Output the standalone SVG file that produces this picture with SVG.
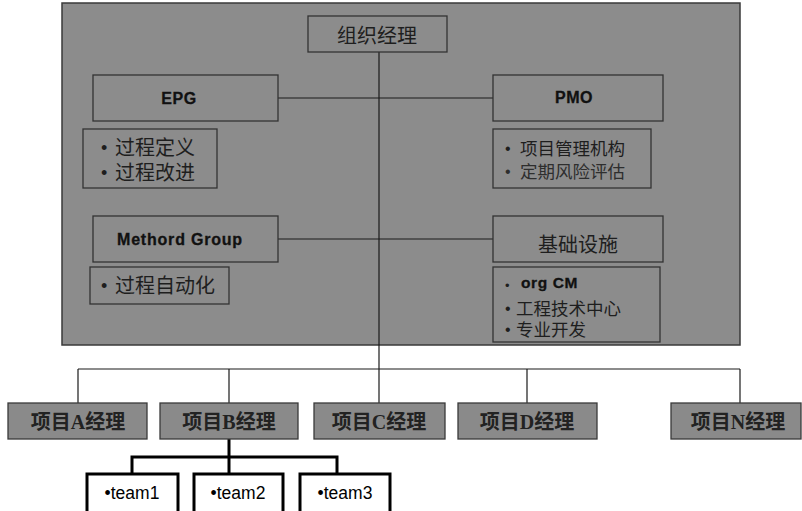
<svg xmlns="http://www.w3.org/2000/svg" width="802" height="511" viewBox="0 0 802 511">
<style>
.bg{fill:#8c8c8c;stroke:#3a3a3a;stroke-width:1.5}
.box{fill:#8c8c8c;stroke:#333;stroke-width:1.3}
.pbox{fill:#8a8a8a;stroke:#3a3a3a;stroke-width:1.3}
.tbox{fill:#fff;stroke:#000;stroke-width:3}
.ln{stroke:#1a1a1a;stroke-width:1.2;fill:none}
.tl{stroke:#000;stroke-width:3;fill:none}
.cjk{font-family:"Noto Sans CJK SC","Liberation Sans",sans-serif;fill:#1e1e1e}
.bul{font-family:"Liberation Sans",Arial,sans-serif;fill:#1e1e1e}
.lat{font-family:"Liberation Sans",Arial,sans-serif;font-weight:bold;fill:#111;stroke:#111;stroke-width:0.3}
.ser{font-family:"Liberation Serif","Noto Sans CJK SC",serif;font-weight:bold;font-size:20px;fill:#222}
.team{font-family:"Liberation Sans",Arial,sans-serif;font-size:17.5px;fill:#000}
</style>
<rect class="bg" x="62" y="3" width="678" height="342"/>
<g id="connectors">
<line class="ln" x1="379" y1="52" x2="379" y2="369"/>
<line class="ln" x1="278" y1="98" x2="493" y2="98"/>
<line class="ln" x1="278" y1="239" x2="493" y2="239"/>
<line class="ln" x1="78" y1="369" x2="740" y2="369"/>
<line class="ln" x1="78" y1="369" x2="78" y2="403"/>
<line class="ln" x1="229" y1="369" x2="229" y2="403"/>
<line class="ln" x1="379" y1="369" x2="379" y2="403"/>
<line class="ln" x1="527" y1="369" x2="527" y2="403"/>
<line class="ln" x1="740" y1="369" x2="740" y2="403"/>
<line class="tl" x1="229" y1="439" x2="229" y2="474"/>
<polyline class="tl" points="132,474 132,457 337,457 337,474"/>
</g>
<g id="org">
<rect class="box" x="308" y="16" width="139" height="36"/>
<text class="cjk" x="377" y="43" font-size="20" text-anchor="middle">组织经理</text>
</g>
<g id="epg">
<rect class="box" x="93" y="75" width="185" height="46"/>
<text class="lat" x="179" y="104" font-size="16" letter-spacing="0.6" text-anchor="middle">EPG</text>
</g>
<g id="epg-items">
<rect class="box" x="83" y="129" width="134" height="59"/>
<text class="bul" x="101" y="154" font-size="18">•</text>
<text class="cjk" x="115" y="155" font-size="20">过程定义</text>
<text class="bul" x="101" y="179" font-size="18">•</text>
<text class="cjk" x="115" y="180" font-size="20">过程改进</text>
</g>
<g id="pmo">
<rect class="box" x="493" y="75" width="170" height="46"/>
<text class="lat" x="574" y="103" font-size="16" letter-spacing="0.6" text-anchor="middle">PMO</text>
</g>
<g id="pmo-items">
<rect class="box" x="493" y="129" width="158" height="59"/>
<text class="bul" x="505" y="154" font-size="16">•</text>
<text class="cjk" x="520" y="155" font-size="17.5">项目管理机构</text>
<text class="bul" x="505" y="177" font-size="16" style="fill:#2e2e2e">•</text>
<text class="cjk" x="520" y="178" font-size="17.5" style="fill:#2e2e2e">定期风险评估</text>
</g>
<g id="methord">
<rect class="box" x="93" y="216" width="185" height="46"/>
<text class="lat" x="117" y="245" font-size="16" letter-spacing="0.8">Methord Group</text>
</g>
<g id="methord-items">
<rect class="box" x="90" y="267" width="139" height="37"/>
<text class="bul" x="101" y="292" font-size="18">•</text>
<text class="cjk" x="115" y="293" font-size="20">过程自动化</text>
</g>
<g id="infra">
<rect class="box" x="493" y="216" width="170" height="46"/>
<text class="cjk" x="578" y="252" font-size="20" text-anchor="middle">基础设施</text>
</g>
<g id="infra-items">
<rect class="box" x="493" y="267" width="167" height="75"/>
<text class="bul" x="505" y="290" font-size="13">•</text>
<text class="lat" x="521" y="288" font-size="15.5" letter-spacing="0.6">org CM</text>
<text class="bul" x="505" y="314" font-size="16">•</text>
<text class="cjk" x="516" y="315" font-size="17.5">工程技术中心</text>
<text class="bul" x="505" y="335" font-size="16">•</text>
<text class="cjk" x="516" y="336" font-size="17.5">专业开发</text>
</g>
<g id="projA">
<rect class="pbox" x="8" y="403" width="139" height="36"/>
<text class="ser" x="78" y="429" text-anchor="middle">项目A经理</text>
</g>
<g id="projB">
<rect class="pbox" x="160" y="403" width="138" height="36"/>
<text class="ser" x="229" y="429" text-anchor="middle">项目B经理</text>
</g>
<g id="projC">
<rect class="pbox" x="314" y="403" width="131" height="36"/>
<text class="ser" x="379" y="429" text-anchor="middle">项目C经理</text>
</g>
<g id="projD">
<rect class="pbox" x="458" y="403" width="139" height="36"/>
<text class="ser" x="527" y="429" text-anchor="middle">项目D经理</text>
</g>
<g id="projN">
<rect class="pbox" x="671" y="403" width="130" height="36"/>
<text class="ser" x="738" y="429" text-anchor="middle">项目N经理</text>
</g>
<g id="team1">
<rect class="tbox" x="87" y="474" width="91" height="42"/>
<text class="team" x="132" y="499" text-anchor="middle">•team1</text>
</g>
<g id="team2">
<rect class="tbox" x="194" y="474" width="89" height="42"/>
<text class="team" x="238" y="499" text-anchor="middle">•team2</text>
</g>
<g id="team3">
<rect class="tbox" x="300" y="474" width="90" height="42"/>
<text class="team" x="345" y="499" text-anchor="middle">•team3</text>
</g>
</svg>
